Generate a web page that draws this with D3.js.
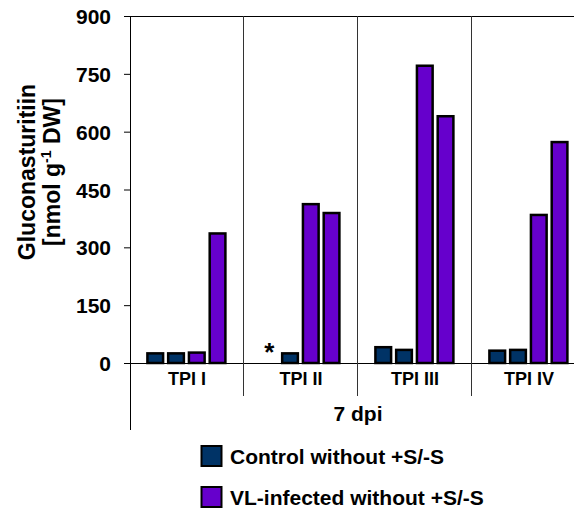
<!DOCTYPE html>
<html>
<head>
<meta charset="utf-8">
<script src="https://cdn.jsdelivr.net/npm/d3@7"></script>
<style>
  html, body { margin: 0; padding: 0; background: #fff; }
  svg { display: block; }
  text { font-family: "Liberation Sans", Arial, sans-serif; font-weight: bold; fill: #000; }
</style>
</head>
<body>
<script>
// ---- data ----
const categories = ["TPI I", "TPI II", "TPI III", "TPI IV"];
const control1 = [25, null, 41, 32];   // null = not detected (marked *)
const control2 = [25, 25, 34, 34];
const infected1 = [27, 412, 771, 384];
const infected2 = [336, 389, 640, 573];
const yTicks = [0, 150, 300, 450, 600, 750, 900];
const groupLabel = "7 dpi";
const legendLabels = ["Control without +S/-S", "VL-infected without +S/-S"];
const seriesColors = ["#003366", "#6600CC"];

const seriesList = [
  { values: control1, color: 0 },
  { values: control2, color: 0 },
  { values: infected1, color: 1 },
  { values: infected2, color: 1 }
];

const W = 574, H = 513;
const svg = d3.select("body").append("svg").attr("width", W).attr("height", H);

const y = d3.scaleLinear().domain([0, 900]).range([363, 16]);
const x0 = d3.scaleBand().domain(categories).range([130, 586]).paddingInner(0).paddingOuter(0);
const x1 = d3.scaleBand().domain(d3.range(seriesList.length)).range([17.4, 95.4]).paddingInner(0.244).paddingOuter(0);

// y axis ticks
const yAxis = d3.axisLeft(y).tickValues(yTicks).tickSize(6).tickPadding(13);
const gy = svg.append("g").attr("transform", "translate(130,0)").call(yAxis);
gy.select(".domain").remove();
gy.selectAll(".tick line").attr("stroke", "#000");
gy.selectAll(".tick text")
  .attr("font-size", 21)
  .attr("font-family", "Liberation Sans, Arial, sans-serif")
  .attr("font-weight", "bold")
  .attr("fill", "#000")
  .attr("dy", "0.36em");

// frame lines
svg.append("line").attr("x1", 124).attr("x2", W).attr("y1", y(900) + 0.5).attr("y2", y(900) + 0.5).attr("stroke", "#000");
svg.append("line").attr("x1", 124).attr("x2", W).attr("y1", y(0) + 0.5).attr("y2", y(0) + 0.5).attr("stroke", "#000");
svg.append("line").attr("x1", 130.5).attr("x2", 130.5).attr("y1", y(900)).attr("y2", 430).attr("stroke", "#000");
categories.slice(1).forEach(c => {
  const xx = Math.round(x0(c)) - 0.5;
  svg.append("line").attr("x1", xx).attr("x2", xx).attr("y1", y(900)).attr("y2", 396).attr("stroke", "#333");
});

// bars
const g = svg.append("g");
categories.forEach((c, ci) => {
  seriesList.forEach((s, si) => {
    const v = s.values[ci];
    const bx = x0(c) + x1(si);
    if (v == null) {
      g.append("text")
        .attr("x", bx + x1.bandwidth() / 2)
        .attr("y", y(0) - 2)
        .attr("text-anchor", "middle")
        .attr("font-size", 26)
        .text("*");
      return;
    }
    g.append("rect")
      .attr("x", bx)
      .attr("y", y(v))
      .attr("width", x1.bandwidth())
      .attr("height", y(0) - y(v))
      .attr("fill", seriesColors[s.color])
      .attr("stroke", "#000")
      .attr("stroke-width", 2.5);
  });
});

// category labels
svg.append("g").selectAll("text").data(categories).join("text")
  .attr("x", d => x0(d) + x0.bandwidth() / 2)
  .attr("y", 385)
  .attr("text-anchor", "middle")
  .attr("font-size", 18)
  .text(d => d);

svg.append("text")
  .attr("x", (x0.range()[0] + x0.range()[1]) / 2)
  .attr("y", 421)
  .attr("text-anchor", "middle")
  .attr("font-size", 21)
  .text(groupLabel);

// y title
svg.append("text")
  .attr("transform", "translate(35,172) rotate(-90)")
  .attr("text-anchor", "middle")
  .attr("font-size", 23)
  .text("Gluconasturitiin");
const t2 = svg.append("text")
  .attr("transform", "translate(60,172) rotate(-90)")
  .attr("text-anchor", "middle")
  .attr("font-size", 23);
t2.append("tspan").text("[nmol g");
t2.append("tspan").attr("font-size", 14).attr("dy", -9).text("-1");
t2.append("tspan").attr("dy", 9).text(" DW]");

// legend
const legY = [446, 487];
legendLabels.forEach((lab, i) => {
  svg.append("rect")
    .attr("x", 201.5).attr("y", legY[i])
    .attr("width", 20).attr("height", 20)
    .attr("fill", seriesColors[i])
    .attr("stroke", "#000").attr("stroke-width", 2);
  svg.append("text")
    .attr("x", 230)
    .attr("y", legY[i] + 18)
    .attr("font-size", 21)
    .text(lab);
});
</script>
</body>
</html>
